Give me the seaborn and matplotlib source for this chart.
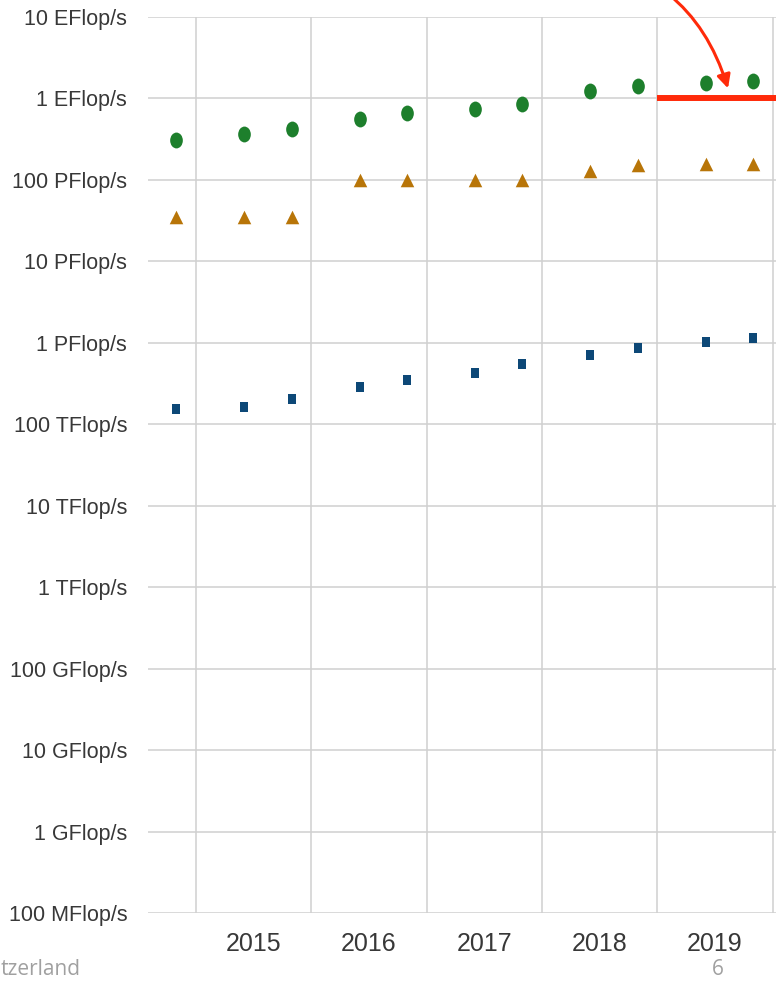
import numpy as np
import pandas as pd
import seaborn as sns
import matplotlib.pyplot as plt
from matplotlib.path import Path
from matplotlib.transforms import Affine2D

# Top500 lists (June / November), position on a decimal-year axis
list_dates = [2014.83, 2015.42, 2015.83, 2016.42, 2016.83, 2017.42,
              2017.83, 2018.42, 2018.83, 2019.42, 2019.83]

# performance in PFlop/s
perf_sum = [309, 363, 420, 567, 672, 749, 845, 1220, 1410, 1560, 1650]
perf_n1 = [35, 35, 35, 99, 99, 99, 99, 128, 152, 155, 155]
perf_n500 = [0.153, 0.165, 0.206, 0.286, 0.349, 0.432, 0.548, 0.716, 0.875, 1.022, 1.142]

exaflop_level = 1000  # PFlop/s
year_labels = ['2015', '2016', '2017', '2018', '2019']
year_starts = [2015, 2016, 2017, 2018, 2019, 2020]
y_labels = ['100 MFlop/s', '1 GFlop/s', '10 GFlop/s', '100 GFlop/s', '1 TFlop/s',
            '10 TFlop/s', '100 TFlop/s', '1 PFlop/s', '10 PFlop/s', '100 PFlop/s',
            '1 EFlop/s', '10 EFlop/s']

sns.set_style("white")
plt.rcParams['font.family'] = ['Liberation Sans', 'DejaVu Sans']

W, H = 776, 981
fig = plt.figure(figsize=(W / 100, H / 100), dpi=100)
ax = fig.add_axes([148 / W, 1 - 913 / H, 1 - 148 / W, (913 - 17) / H])

# slightly tall markers, like the stretched original
oval = Path.unit_circle().transformed(Affine2D().scale(0.8, 1.0))
rect = Path([(-0.7, -1), (0.7, -1), (0.7, 1), (-0.7, 1), (-0.7, -1)],
            [Path.MOVETO, Path.LINETO, Path.LINETO, Path.LINETO, Path.CLOSEPOLY])

sns.scatterplot(x=list_dates, y=perf_sum, marker=oval, s=130, color='#1d7f2c',
                linewidth=0, ax=ax, zorder=3)
sns.scatterplot(x=list_dates, y=perf_n1, marker='^', s=95, color='#b87508',
                linewidth=0, ax=ax, zorder=3)
sns.scatterplot(x=list_dates, y=perf_n500, marker=rect, s=55, color='#0d4877',
                linewidth=0, ax=ax, zorder=3)

ax.set_yscale('log')
ax.set_ylim(1e-7, 1e4)
ax.set_xlim(2014.584, 2020.03)

ax.set_yticks([10.0 ** k for k in range(-7, 5)])
ax.set_yticklabels(y_labels)
ax.yaxis.set_minor_locator(plt.NullLocator())
ax.set_xticks(year_starts)
ax.set_xticklabels([])
ax.set_xticks([y + 0.5 for y in year_starts[:-1]], minor=True)
ax.set_xticklabels(year_labels, minor=True)

ax.tick_params(axis='y', which='both', length=0, pad=15, labelsize=15.5, labelcolor='#383838')
ax.tick_params(axis='x', which='both', length=0, pad=14, labelsize=18, labelcolor='#383838')
ax.grid(True, which='major', color='#d0d0d0', linewidth=1.1)
ax.set_axisbelow(True)
sns.despine(ax=ax, left=True, bottom=True)
ax.set_xlabel('')
ax.set_ylabel('')

# exaflop target line and arrow
ax.hlines(exaflop_level, 2019.0, 2020.03, color='#ff2a0a', linewidth=4.3, zorder=4, clip_on=False)
ax.annotate('', xy=(2019.614, 1330), xycoords='data',
            xytext=(565, H + 45), textcoords='figure pixels',
            arrowprops=dict(arrowstyle='-|>', color='#ff2a0a', lw=2.2,
                            mutation_scale=20, shrinkA=0, shrinkB=0,
                            connectionstyle='arc3,rad=-0.33'),
            annotation_clip=False)

# slide footer remnants (the visible part of the slide's footer)
footer_font = ['Open Sans', 'DejaVu Sans']
fig.text(1 / W, 6 / H, 'tzerland', ha='left', va='baseline', fontsize=15,
         color='#a0a0a0', family=footer_font)
fig.text(718 / W, 6 / H, '6', ha='center', va='baseline', fontsize=15,
         color='#a0a0a0', family=footer_font)

fig.savefig('out.png', dpi=100)
plt.close(fig)
